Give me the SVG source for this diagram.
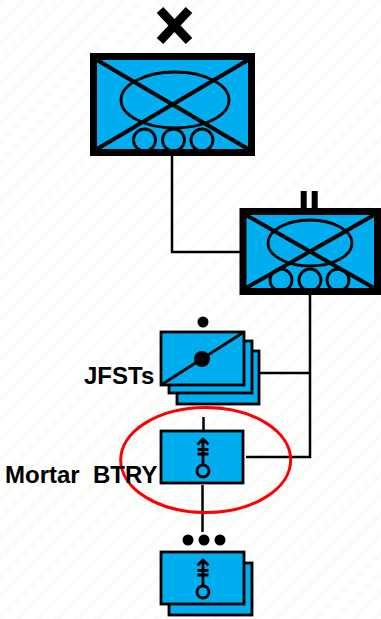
<svg xmlns="http://www.w3.org/2000/svg" width="381" height="619" viewBox="0 0 381 619">
<style>
.u{fill:#00aeef;stroke:#000;stroke-width:2.800}
.heavy{fill:#00aeef;stroke:#000;stroke-width:7}
.thin{fill:none;stroke:#000;stroke-width:2.800}
.x{fill:none;stroke:#000;stroke-width:4}
.c{fill:none;stroke:#000;stroke-width:2.500}
.lbl{font:bold 24px "Liberation Sans",Arial,sans-serif;fill:#000}
</style>
<defs>
<pattern id="bg" width="14" height="14" patternUnits="userSpaceOnUse" patternTransform="rotate(45)">
<rect width="14" height="14" fill="#fff"/>
<rect width="5" height="14" fill="#fafcf8"/>
</pattern>
<g id="mortar">
<path class="thin" d="M203 -31V-6M197.500 -26.500L203 -32L208.500 -26.500M197.500 -21.500H208.500M197.500 -17H208.500"/>
<circle class="thin" cx="203" cy="0" r="6"/>
</g>
</defs>
<rect width="381" height="619" fill="url(#bg)"/>
<g id="connectors">
<path class="c" d="M172 156V252H240"/>
<path class="c" d="M310 295V457H246"/>
<path class="c" d="M259 373H310"/>
<path class="c" d="M203.500 417V431"/>
<path class="c" d="M202.500 485V532"/>
</g>
<g id="brigade">
<path d="M160 10L189 41M189 10L160 41" fill="none" stroke="#000" stroke-width="9"/>
<rect class="heavy" x="93.500" y="56.500" width="158" height="96"/>
<path class="x" d="M97 60L248 149M248 60L97 149"/>
<ellipse class="thin" cx="175" cy="100" rx="54" ry="28"/>
<circle class="thin" cx="144.500" cy="140" r="11"/>
<circle class="thin" cx="173.500" cy="140" r="11"/>
<circle class="thin" cx="202" cy="140" r="11"/>
</g>
<g id="battalion">
<rect x="300.700" y="191" width="6" height="18"/>
<rect x="311.700" y="191" width="6" height="18"/>
<rect class="heavy" x="243" y="211.500" width="134.500" height="80"/>
<path class="x" d="M246 215L374 288M374 215L246 288"/>
<ellipse class="thin" cx="310" cy="243" rx="42" ry="23"/>
<circle class="thin" cx="281" cy="280" r="11"/>
<circle class="thin" cx="310" cy="280" r="11"/>
<circle class="thin" cx="338" cy="280" r="11"/>
</g>
<g id="jfsts">
<rect class="u" x="177" y="351" width="82" height="53"/>
<rect class="u" x="169" y="341" width="83" height="52"/>
<rect class="u" x="161" y="332" width="83" height="53"/>
<path class="thin" d="M161 385L244 332"/>
<circle cx="202" cy="359" r="8"/>
<circle cx="203" cy="322" r="5.500"/>
<text class="lbl" x="84" y="384">JFSTs</text>
</g>
<g id="mortar-btry">
<ellipse cx="205.700" cy="460" rx="85" ry="52.500" fill="none" stroke="#f00" stroke-width="3"/>
<rect class="u" x="161" y="431" width="82" height="52"/>
<use href="#mortar" y="471"/>
<text class="lbl" x="5" y="483" xml:space="preserve">Mortar  BTRY</text>
</g>
<g id="platoons">
<rect class="u" x="169" y="563" width="83" height="52"/>
<rect class="u" x="161" y="552" width="83" height="52"/>
<use href="#mortar" y="592"/>
<circle cx="188" cy="540" r="5.500"/>
<circle cx="204" cy="540" r="5.500"/>
<circle cx="220" cy="540" r="5.500"/>
</g>
</svg>
